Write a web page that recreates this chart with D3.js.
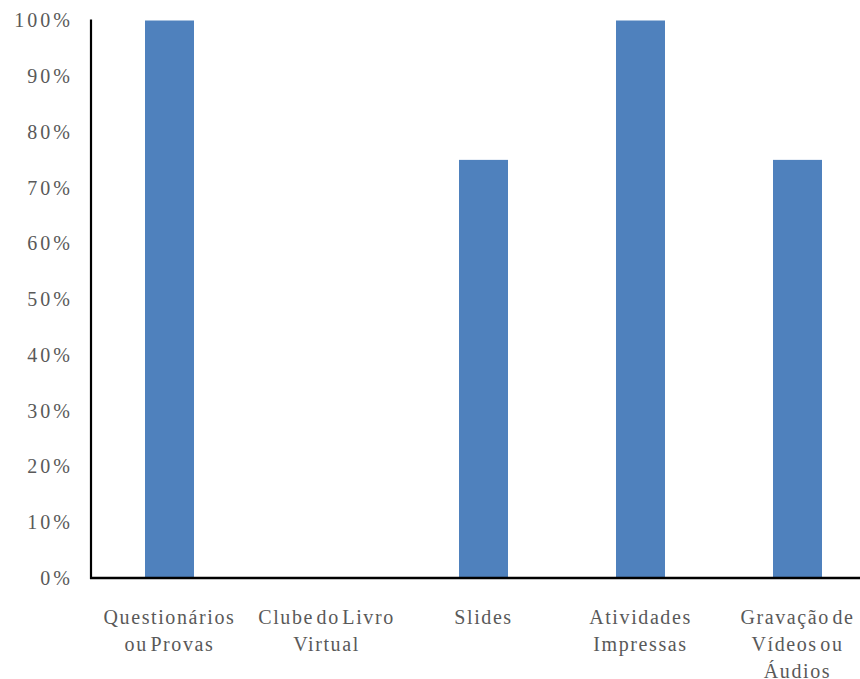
<!DOCTYPE html>
<html>
<head>
<meta charset="utf-8">
<title></title>
<style>
    body { margin: 0; background: #fff; }
    text { font-family: "Liberation Serif", "Times New Roman", serif; fill: #595959; }
</style>
</head>
<body>
<div id="chart"></div>
<script src="https://d3js.org/d3.v7.min.js"></script>
<script>
    // data
    const categories = ["Questionários ou Provas", "Clube do Livro Virtual", "Slides", "Atividades Impressas", "Gravação de Vídeos ou Áudios"]
    const labelLines = [["Questionários", "ou Provas"], ["Clube do Livro", "Virtual"], ["Slides"], ["Atividades", "Impressas"], ["Gravação de", "Vídeos ou", "Áudios"]]
    const values = [1.00, 0, 0.75, 1.00, 0.75]
    const yTicks = [0, 0.1, 0.2, 0.3, 0.4, 0.5, 0.6, 0.7, 0.8, 0.9, 1.0]

    const width = 860, height = 679
    const margin = {top: 20.5, left: 91, bottom: 101, right: -16}

    const svg = d3.select("#chart")
        .append("svg")
        .attr("width", width)
        .attr("height", height)

    const x = d3.scaleBand()
        .domain(categories)
        .range([margin.left, width - margin.right])
        .paddingInner(0.688)
        .paddingOuter(0.344)

    const y = d3.scaleLinear()
        .domain([0, 1])
        .range([height - margin.bottom, margin.top])

    // bars
    svg.append("g")
        .selectAll("rect")
        .data(values)
        .join("rect")
        .attr("x", (d, i) => x(categories[i]))
        .attr("y", d => y(d))
        .attr("width", x.bandwidth())
        .attr("height", d => y(0) - y(d))
        .attr("fill", "#4f81bd")

    // y axis labels (no tick marks)
    const yAxis = svg.append("g")
        .attr("transform", `translate(${margin.left},0)`)
        .call(d3.axisLeft(y).tickValues(yTicks).tickFormat(d3.format(".0%")).tickSize(0).tickPadding(21))
    yAxis.select(".domain").remove()
    yAxis.selectAll("text")
        .style("font-size", "20px")
        .style("letter-spacing", "3px")
        .attr("dx", 3)
        .attr("fill", "#595959")

    // axis lines
    svg.append("line")
        .attr("x1", margin.left).attr("x2", margin.left)
        .attr("y1", y(1) - 1).attr("y2", y(0) + 1)
        .attr("stroke", "#000").attr("stroke-width", 2.2)
    svg.append("line")
        .attr("x1", margin.left - 1).attr("x2", width)
        .attr("y1", y(0)).attr("y2", y(0))
        .attr("stroke", "#000").attr("stroke-width", 2.5)

    // category labels
    const xl = svg.append("g")
        .selectAll("text")
        .data(categories)
        .join("text")
        .attr("x", d => x(d) + x.bandwidth() / 2)
        .attr("y", y(0) + 46)
        .attr("text-anchor", "middle")
        .style("font-size", "20px")
        .style("letter-spacing", "1.6px")
        .style("word-spacing", "-4px")

    xl.selectAll("tspan")
        .data((d, i) => labelLines[i])
        .join("tspan")
        .attr("x", function() { return this.parentNode.getAttribute("x") })
        .attr("dy", (d, i) => i == 0 ? 0 : 27)
        .text(d => d)
</script>
</body>
</html>
